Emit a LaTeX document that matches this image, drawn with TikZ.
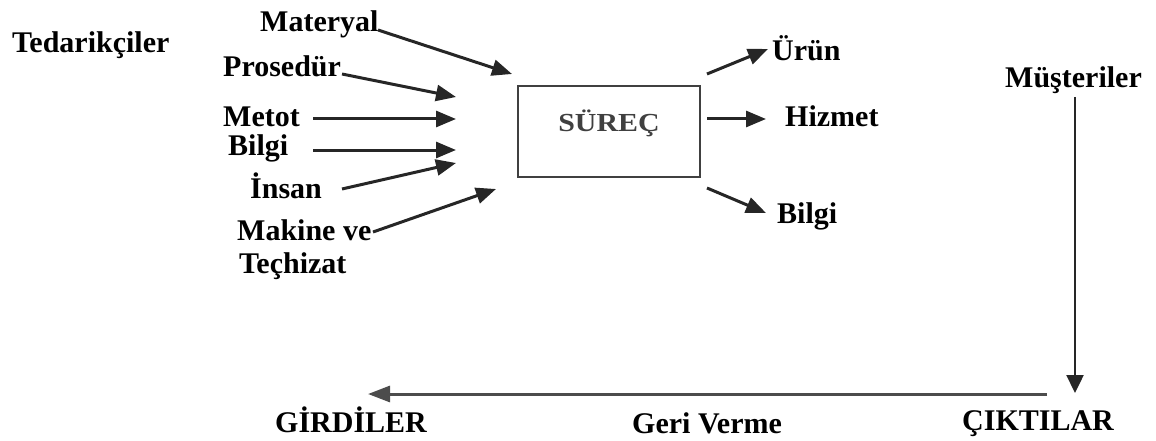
\documentclass[tikz,border=0pt]{standalone}
\usepackage{fontspec}
\setmainfont{Liberation Serif}
\usetikzlibrary{arrows.meta}
\begin{document}
\begin{tikzpicture}[x=1pt,y=-1pt,
  lbl/.style={font=\fontsize{30}{34}\selectfont\bfseries, inner sep=0pt, anchor=base west},
  feed/.style={line width=3pt, black!85, -{Triangle[length=20pt,width=16pt]}},
  thin/.style={line width=2.4pt, black!85, -{Triangle[length=18pt,width=17pt]}},
  back/.style={line width=3pt, black!70, -{Triangle[length=22pt,width=16pt]}},
  procbox/.style={draw=black!75, line width=2.2pt, minimum width=182pt, minimum height=91pt, inner sep=0pt}]
  \useasboundingbox (0,0) rectangle (1156,441);

  % suppliers and inputs
  \node[lbl] (ted) at (12,53) {Tedarikçiler};
  \node[lbl] (mat) at (260,32) {Materyal};
  \node[lbl] (pro) at (223,77) {Prosedür};
  \node[lbl] (met) at (223,127) {Metot};
  \node[lbl] (bil) at (228,155) {Bilgi};
  \node[lbl] (ins) at (250,198) {İnsan};
  \node[lbl] (mak) at (237,240) {Makine ve};
  \node[lbl] (tec) at (239,273) {Teçhizat};

  % process box
  \node[procbox] (box) at (609,131.5) {};
  \node[font=\fontsize{26}{30}\selectfont\bfseries, text=black!75, xscale=1.15, inner sep=0pt] (sur) at (609,123) {SÜREÇ};

  % outputs
  \node[lbl] (urun) at (772,61) {Ürün};
  \node[lbl] (hiz) at (785,127) {Hizmet};
  \node[lbl] (bil2) at (777,223) {Bilgi};

  % customers and loop labels
  \node[lbl] (mus) at (1005,88) {Müşteriler};
  \node[lbl] (gir) at (275,432) {GİRDİLER};
  \node[lbl] (geri) at (632,433) {Geri Verme};
  \node[lbl] (cik) at (962,430) {ÇIKTILAR};

  % arrow end points
  \coordinate (matS) at (378,30);  \coordinate (matE) at (512,74);
  \coordinate (proS) at (342,74);  \coordinate (proE) at (456,97);
  \coordinate (metS) at (313,119); \coordinate (metE) at (456,119);
  \coordinate (bilS) at (313,150); \coordinate (bilE) at (456,150);
  \coordinate (insS) at (342,189); \coordinate (insE) at (456,163);
  \coordinate (makS) at (373,232); \coordinate (makE) at (496,189);

  \coordinate (o1S) at (707,74);   \coordinate (o1E) at (768,49);
  \coordinate (o2S) at (707,119);  \coordinate (o2E) at (766,119);
  \coordinate (o3S) at (707,188);  \coordinate (o3E) at (766,213);

  \coordinate (vS) at (1075,97);   \coordinate (vE) at (1075,393);
  \coordinate (hS) at (1047,394);  \coordinate (hE) at (368,394);

  % input arrows
  \draw[feed] (matS) -- (matE);
  \draw[feed] (proS) -- (proE);
  \draw[feed] (metS) -- (metE);
  \draw[feed] (bilS) -- (bilE);
  \draw[feed] (insS) -- (insE);
  \draw[feed] (makS) -- (makE);

  % output arrows
  \draw[feed] (o1S) -- (o1E);
  \draw[feed] (o2S) -- (o2E);
  \draw[feed] (o3S) -- (o3E);

  % customer loop
  \draw[thin] (vS) -- (vE);
  \draw[back] (hS) -- (hE);
\end{tikzpicture}
\end{document}
